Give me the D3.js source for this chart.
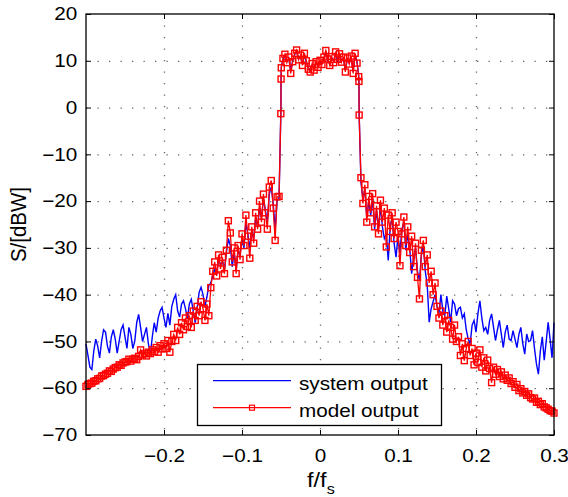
<!DOCTYPE html>
<html>
<head>
<meta charset="utf-8">
<script src="https://cdn.jsdelivr.net/npm/d3@7"></script>
<style>
  body { margin: 0; background: #fff; }
  svg { display: block; font-family: "Liberation Sans", Arial, Helvetica, sans-serif; }
</style>
</head>
<body>
<svg width="568" height="497"></svg>
<script>
// normalized frequency bins (f/fs)
let freq = [
  -0.3000,-0.2975,-0.2950,-0.2925,-0.2900,-0.2875,-0.2850,-0.2825,-0.2800,-0.2775,
  -0.2750,-0.2725,-0.2700,-0.2675,-0.2650,-0.2625,-0.2600,-0.2575,-0.2550,-0.2525,
  -0.2500,-0.2475,-0.2450,-0.2425,-0.2400,-0.2375,-0.2350,-0.2325,-0.2300,-0.2275,
  -0.2250,-0.2225,-0.2200,-0.2175,-0.2150,-0.2125,-0.2100,-0.2075,-0.2050,-0.2025,
  -0.2000,-0.1975,-0.1950,-0.1925,-0.1900,-0.1875,-0.1850,-0.1825,-0.1800,-0.1775,
  -0.1750,-0.1725,-0.1700,-0.1675,-0.1650,-0.1625,-0.1600,-0.1575,-0.1550,-0.1525,
  -0.1500,-0.1475,-0.1450,-0.1425,-0.1400,-0.1375,-0.1350,-0.1325,-0.1300,-0.1275,
  -0.1250,-0.1225,-0.1200,-0.1175,-0.1150,-0.1125,-0.1100,-0.1075,-0.1050,-0.1025,
  -0.1000,-0.0975,-0.0950,-0.0925,-0.0900,-0.0875,-0.0850,-0.0825,-0.0800,-0.0775,
  -0.0750,-0.0725,-0.0700,-0.0675,-0.0650,-0.0625,-0.0600,-0.0575,-0.0550,-0.0525,
  -0.0502,-0.0499,-0.0496,
  -0.0475,-0.0450,-0.0425,-0.0400,-0.0375,-0.0350,-0.0325,-0.0300,-0.0275,-0.0250,
  -0.0225,-0.0200,-0.0175,-0.0150,-0.0125,-0.0100,-0.0075,-0.0050,-0.0025,0.0000,
  0.0025,0.0050,0.0075,0.0100,0.0125,0.0150,0.0175,0.0200,0.0225,0.0250,
  0.0275,0.0300,0.0325,0.0350,0.0375,0.0400,0.0425,0.0450,0.0475,
  0.0496,0.0499,0.0502,
  0.0525,0.0550,0.0575,0.0600,0.0625,0.0650,0.0675,0.0700,0.0725,0.0750,
  0.0775,0.0800,0.0825,0.0850,0.0875,0.0900,0.0925,0.0950,0.0975,0.1000,
  0.1025,0.1050,0.1075,0.1100,0.1125,0.1150,0.1175,0.1200,0.1225,0.1250,
  0.1275,0.1300,0.1325,0.1350,0.1375,0.1400,0.1425,0.1450,0.1475,0.1500,
  0.1525,0.1550,0.1575,0.1600,0.1625,0.1650,0.1675,0.1700,0.1725,0.1750,
  0.1775,0.1800,0.1825,0.1850,0.1875,0.1900,0.1925,0.1950,0.1975,0.2000,
  0.2025,0.2050,0.2075,0.2100,0.2125,0.2150,0.2175,0.2200,0.2225,0.2250,
  0.2275,0.2300,0.2325,0.2350,0.2375,0.2400,0.2425,0.2450,0.2475,0.2500,
  0.2525,0.2550,0.2575,0.2600,0.2625,0.2650,0.2675,0.2700,0.2725,0.2750,
  0.2775,0.2800,0.2825,0.2850,0.2875,0.2900,0.2925,0.2950,0.2975,0.3000
]

// blue trace
let systemDb = [
  -50.5,-53.0,-55.5,-56.0,-52.0,-49.5,-51.0,-53.5,-50.0,-47.5,
  -48.0,-51.0,-52.5,-49.0,-47.5,-49.5,-52.5,-50.0,-47.5,-46.5,
  -49.0,-51.5,-47.0,-48.5,-51.5,-50.0,-46.0,-44.2,-47.0,-50.0,
  -48.5,-47.0,-50.5,-52.7,-49.0,-46.0,-48.0,-45.0,-43.5,-42.7,
  -45.0,-47.0,-44.0,-46.5,-42.5,-41.0,-40.0,-43.5,-44.8,-42.0,
  -41.3,-43.0,-45.0,-42.0,-41.0,-43.5,-46.0,-43.0,-39.5,-38.4,
  -40.0,-42.5,-40.5,-38.0,-37.5,-36.0,-34.5,-35.5,-32.5,-33.5,
  -33.0,-34.5,-31.0,-28.0,-29.5,-34.0,-31.0,-34.8,-30.5,-31.5,
  -28.0,-30.0,-24.5,-27.0,-30.0,-26.5,-28.0,-23.5,-25.5,-21.5,
  -23.5,-19.5,-22.0,-24.5,-18.5,-17.0,-20.5,-26.0,-20.0,-19.5,
  -1.0,6.3,8.7,
  10.2,11.0,9.9,10.5,7.8,10.1,11.3,12.0,10.5,10.9,
  9.3,11.2,9.8,8.5,7.9,9.1,8.4,9.5,8.9,9.8,
  9.5,10.5,11.8,10.1,9.3,10.6,9.9,11.5,10.0,11.2,
  10.0,10.5,8.0,10.3,9.6,10.7,7.7,11.2,9.8,
  6.8,5.9,-1.3,
  -16.0,-19.5,-17.5,-23.5,-20.0,-23.0,-19.5,-26.0,-22.0,-26.0,
  -21.0,-25.5,-28.0,-27.0,-32.7,-25.5,-23.5,-29.0,-32.0,-27.5,
  -31.0,-26.0,-24.5,-30.5,-27.0,-30.0,-35.5,-32.0,-30.0,-35.0,
  -37.0,-31.5,-29.5,-35.0,-38.0,-45.9,-43.0,-41.5,-40.0,-42.5,
  -44.0,-40.0,-43.5,-44.5,-40.3,-43.0,-45.9,-41.3,-42.0,-44.5,
  -43.0,-42.7,-45.0,-44.1,-47.5,-49.5,-50.5,-46.5,-45.5,-48.0,
  -44.0,-41.3,-45.0,-47.7,-47.0,-48.5,-45.5,-44.1,-47.0,-49.8,
  -47.5,-45.5,-48.5,-51.3,-48.0,-46.5,-49.5,-49.8,-47.7,-49.5,
  -51.3,-48.5,-47.0,-50.5,-52.7,-48.4,-50.0,-49.8,-47.7,-51.5,
  -54.8,-57.0,-52.0,-49.0,-54.0,-50.0,-45.9,-49.5,-53.5,-46.0
]

// red trace with square markers
let modelDb = [
  -59.6,-59.2,-59.0,-58.9,-58.5,-58.4,-58.0,-57.9,-57.4,-57.3,
  -57.0,-56.8,-56.3,-56.4,-55.9,-55.6,-55.5,-55.0,-55.1,-54.6,
  -54.4,-54.3,-53.8,-54.2,-53.8,-53.6,-53.9,-53.2,-51.8,-52.9,
  -52.6,-53.1,-52.3,-52.6,-51.8,-52.2,-51.3,-52.3,-50.9,-51.6,
  -50.5,-51.5,-49.8,-52.3,-50.0,-48.5,-49.8,-47.0,-48.5,-46.0,
  -47.5,-45.0,-46.8,-44.5,-47.0,-43.5,-45.5,-42.5,-44.5,-41.5,
  -43.0,-45.5,-42.0,-44.5,-38.5,-35.0,-33.0,-36.0,-31.5,-34.5,
  -32.0,-35.5,-30.5,-24.2,-26.8,-33.0,-30.0,-35.5,-29.5,-32.5,
  -27.0,-29.5,-23.0,-27.5,-32.2,-25.5,-29.0,-22.5,-26.0,-20.0,
  -24.5,-18.5,-22.5,-26.0,-17.0,-15.6,-21.5,-28.4,-19.1,-19.0,
  -1.3,6.1,8.5,
  10.5,11.4,9.6,10.8,7.3,9.8,11.6,12.3,10.2,11.2,
  9.0,11.6,10.0,8.2,7.6,9.4,8.0,9.8,8.6,10.1,
  9.2,10.8,12.2,10.4,9.0,10.9,9.6,11.9,10.3,11.5,
  9.7,10.8,7.6,10.6,9.3,11.0,7.3,11.6,9.5,
  6.6,5.6,-1.6,
  -15.0,-20.5,-16.5,-24.5,-19.0,-22.5,-18.4,-25.5,-21.0,-27.0,
  -19.8,-24.5,-21.5,-29.8,-23.0,-26.5,-22.5,-28.0,-24.5,-26.5,
  -33.8,-27.0,-23.4,-29.5,-25.5,-31.0,-27.5,-34.0,-29.0,-36.3,
  -40.9,-30.5,-28.4,-34.0,-31.5,-37.5,-35.0,-40.0,-37.5,-42.5,
  -45.0,-43.5,-46.5,-44.5,-48.0,-45.5,-47.0,-49.5,-46.5,-50.0,
  -49.0,-53.0,-50.5,-54.1,-51.5,-50.0,-53.0,-51.5,-55.0,-52.5,
  -54.5,-51.8,-55.5,-53.5,-56.3,-54.0,-55.8,-58.8,-55.5,-57.0,
  -56.0,-57.5,-56.5,-58.0,-57.2,-58.3,-57.8,-59.0,-58.6,-59.8,
  -59.2,-60.5,-60.1,-61.0,-60.7,-61.5,-61.2,-62.0,-62.3,-62.1,
  -63.0,-62.8,-63.5,-63.3,-64.0,-64.2,-64.5,-64.8,-64.9,-65.3
]

let xTicks = [-0.2, -0.1, 0, 0.1, 0.2, 0.3]
let yTicks = [-70, -60, -50, -40, -30, -20, -10, 0, 10, 20]
let legendLabels = ['system output', 'model output']

let margin = {top: 14, right: 14, bottom: 62, left: 86}
let width = 568 - margin.left - margin.right
let height = 497 - margin.top - margin.bottom
// matlab export looks horizontally stretched
let stretch = 'scale(1.15,1)'
let markerSize = 6

let svg = d3.select('svg')
svg.append('rect').attr('width', 568).attr('height', 497).attr('fill', '#fff')

let graph = svg.append('g')
  .attr('transform', `translate(${margin.left}, ${margin.top})`)

const xScale = d3.scaleLinear().domain([-0.3, 0.3]).range([0, width])
const yScale = d3.scaleLinear().domain([-70, 20]).range([height, 0])

// dotted grid
graph.append('g')
  .attr('class', 'grid')
  .call(d3.axisBottom(xScale).tickValues(xTicks.filter(d => d < 0.3))
    .tickSize(height).tickFormat(''))
graph.append('g')
  .attr('class', 'grid')
  .call(d3.axisLeft(yScale).tickValues(yTicks.filter(d => d > -70 && d < 20))
    .tickSize(-width).tickFormat(''))
graph.selectAll('.grid .domain').remove()
graph.selectAll('.grid line')
  .attr('stroke', '#666')
  .attr('stroke-width', 1.3)
  .attr('stroke-dasharray', '1.3,10.2')

const line = d3.line()
  .x((d, i) => xScale(freq[i]))
  .y(d => yScale(d))

graph.append('path')
  .datum(systemDb)
  .attr('fill', 'none')
  .attr('stroke', '#0000ff')
  .attr('stroke-width', 1.4)
  .attr('d', line)

graph.append('path')
  .datum(modelDb)
  .attr('fill', 'none')
  .attr('stroke', '#ff0000')
  .attr('stroke-width', 1.3)
  .attr('d', line)

graph.append('g')
  .selectAll('rect')
  .data(modelDb)
  .join('rect')
  .attr('x', (d, i) => xScale(freq[i]) - markerSize / 2)
  .attr('y', d => yScale(d) - markerSize / 2)
  .attr('width', markerSize)
  .attr('height', markerSize)
  .attr('fill', 'none')
  .attr('stroke', '#ff0000')
  .attr('stroke-width', 1.4)

// axes, ticks pointing inward
let fmtX = d3.format('.1~f')
graph.append('g')
  .attr('transform', `translate(0, ${height})`)
  .call(d3.axisBottom(xScale).tickValues(xTicks).tickSize(-5).tickPadding(14.5).tickFormat(fmtX))
graph.append('g')
  .call(d3.axisLeft(yScale).tickValues(yTicks).tickSize(-5).tickPadding(7.6).tickFormat(d3.format('d')))
graph.append('g')
  .call(d3.axisTop(xScale).tickValues(xTicks).tickSize(-5).tickFormat(''))
graph.append('g')
  .attr('transform', `translate(${width}, 0)`)
  .call(d3.axisRight(yScale).tickValues(yTicks).tickSize(-5).tickFormat(''))

graph.selectAll('.domain').remove()
graph.selectAll('.tick line').filter(function() { return !this.closest('.grid') })
  .attr('stroke', '#000')
  .attr('stroke-width', 1)
graph.selectAll('.tick text')
  .attr('font-size', 18)
  .attr('font-family', '"Liberation Sans", Arial, sans-serif')
  .attr('fill', '#000')
  .attr('transform', stretch)

graph.append('rect')
  .attr('width', width)
  .attr('height', height)
  .attr('fill', 'none')
  .attr('stroke', '#000')
  .attr('stroke-width', 1.3)

// axis labels
let xLabel = svg.append('text')
  .attr('transform', `translate(307, 487) ${stretch}`)
  .attr('font-size', 20.5)
  .text('f/f')
xLabel.append('tspan')
  .attr('dy', 7)
  .attr('font-size', 14)
  .text('s')

svg.append('text')
  .attr('transform', `translate(25.5, ${margin.top + height / 2}) scale(1.12,1) rotate(-90)`)
  .attr('text-anchor', 'middle')
  .attr('font-size', 20.5)
  .text('S/[dBW]')

// legend
let legend = svg.append('g')
legend.append('rect')
  .attr('x', 197.5).attr('y', 364.5)
  .attr('width', 244).attr('height', 61)
  .attr('fill', '#fff')
  .attr('stroke', '#000')
  .attr('stroke-width', 1.3)

let legendColors = ['#0000ff', '#ff0000']
legendLabels.forEach((label, i) => {
  let ly = 380.7 + i * 27
  legend.append('line')
    .attr('x1', 213).attr('x2', 291)
    .attr('y1', ly).attr('y2', ly)
    .attr('stroke', legendColors[i])
    .attr('stroke-width', i === 0 ? 1.3 : 1.2)
  if (i === 1) {
    legend.append('rect')
      .attr('x', 249.5).attr('y', ly - 2.5)
      .attr('width', 5).attr('height', 5)
      .attr('fill', 'none')
      .attr('stroke', '#ff0000')
      .attr('stroke-width', 1.2)
  }
  legend.append('text')
    .attr('transform', `translate(299, ${ly + 8.8}) ${stretch}`)
    .attr('font-size', 18)
    .text(label)
})
</script>
</body>
</html>
